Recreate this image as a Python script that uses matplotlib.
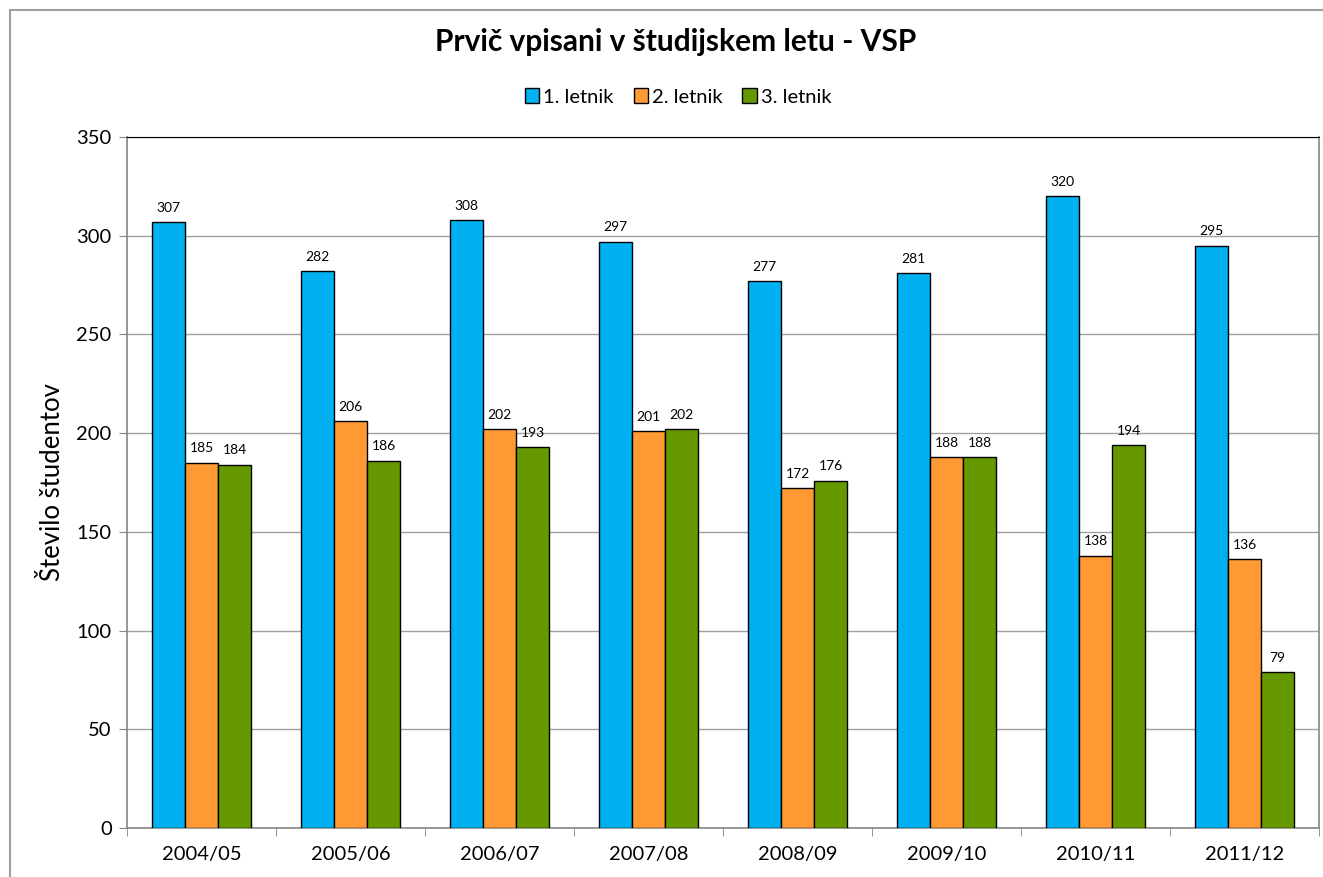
import matplotlib.pyplot as plt
import numpy as np
from matplotlib.lines import Line2D

years = ['2004/05', '2005/06', '2006/07', '2007/08', '2008/09', '2009/10', '2010/11', '2011/12']
letnik1 = [307, 282, 308, 297, 277, 281, 320, 295]
letnik2 = [185, 206, 202, 201, 172, 188, 138, 136]
letnik3 = [184, 186, 193, 202, 176, 188, 194, 79]
series = [('1. letnik', letnik1, '#00B0F0'),
          ('2. letnik', letnik2, '#FF9933'),
          ('3. letnik', letnik3, '#669900')]

plt.rcParams['font.family'] = ['Lato', 'DejaVu Sans']

fig = plt.figure(figsize=(13.23, 8.77), dpi=100)
ax = fig.add_axes([127 / 1323, 49 / 877, 1192 / 1323, 691 / 877])

x = np.arange(len(years))
width = 0.667 / 3
for i, (name, vals, color) in enumerate(series):
    pos = x + (i - 1) * width
    bars = ax.bar(pos, vals, width, color=color, edgecolor='black', linewidth=1, label=name, zorder=3)
    for b, v in zip(bars, vals):
        ax.annotate(str(v), (b.get_x() + b.get_width() / 2, v), xytext=(0, 6),
                    textcoords='offset points', ha='center', va='bottom', fontsize=10)

ax.set_xlim(-0.5, len(years) - 0.5)
ax.set_ylim(0, 350)
ax.set_yticks(range(0, 351, 50))
ax.set_xticks(x)
ax.set_xticklabels(years)
ax.set_xticks(np.arange(-0.5, len(years), 1), minor=True)
ax.tick_params(axis='x', which='major', length=0, pad=13, labelsize=14.5)
ax.tick_params(axis='x', which='minor', length=6, color='#868686', direction='out')
ax.tick_params(axis='y', length=6, color='#868686', labelsize=14.5, pad=5)
ax.yaxis.grid(True, color='#A0A0A0', linewidth=1, zorder=0)
ax.set_axisbelow(True)
for s in ['left', 'bottom', 'right']:
    ax.spines[s].set_color('#868686')
    ax.spines[s].set_linewidth(1.2)
ax.spines['top'].set_color('black')
ax.set_ylabel('Število študentov', fontsize=18.5, labelpad=8)

fig.suptitle('Prvič vpisani v študijskem letu - VSP', x=676 / 1323, y=0.968, fontsize=21.5, fontweight='bold')
handles, labels = ax.get_legend_handles_labels()
fig.legend(handles, labels, loc='center', bbox_to_anchor=(678 / 1323, 1 - 97 / 877), ncol=3, frameon=False,
           fontsize=14.5, handlelength=0.7, handleheight=0.7, handletextpad=0.2, columnspacing=1.0)

# outer chart frame (top and left edges visible)
fig.add_artist(Line2D([10 / 1323, 10 / 1323], [0, 1 - 10 / 877], color='#A0A0A0', lw=1.5, transform=fig.transFigure))
fig.add_artist(Line2D([10 / 1323, 1], [1 - 10 / 877, 1 - 10 / 877], color='#A0A0A0', lw=1.5, transform=fig.transFigure))

fig.savefig('out.png', dpi=100)
